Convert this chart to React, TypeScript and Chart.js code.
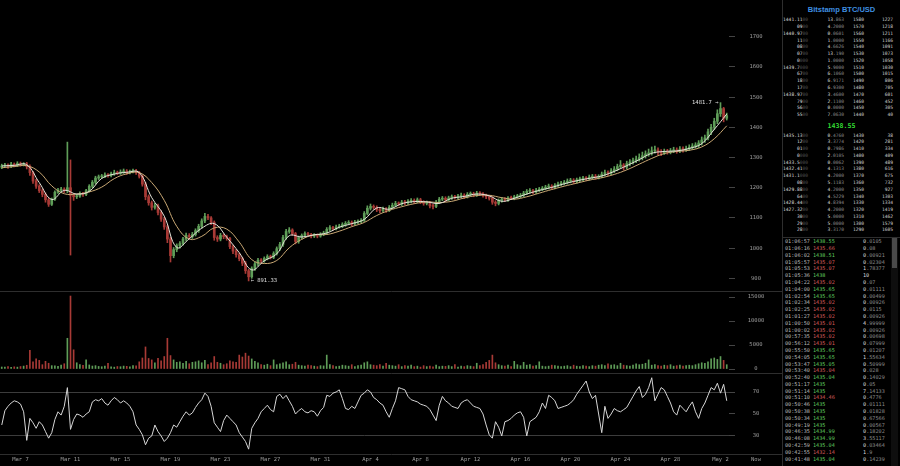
import React, { useEffect, useRef } from 'react';
import { Chart, registerables } from 'chart.js';

Chart.register(...registerables);

const MONO = '"DejaVu Sans Mono", monospace';

// time axis in days counted from Mar 0 (Apr 1 = 32, May 1 = 62)
const FIRST_DAY = 5.5;
const CANDLE_DAYS = 0.25;
const VIEW_START = 5.36;
const VIEW_END = 63.68;
const X_TICK_DAYS = [7, 11, 15, 19, 23, 27, 31, 35, 39, 43, 47, 51, 55, 59, 63, 65.84];
const X_TICK_LABELS = ['Mar 7', 'Mar 11', 'Mar 15', 'Mar 19', 'Mar 23', 'Mar 27', 'Mar 31', 'Apr 4', 'Apr 8', 'Apr 12', 'Apr 16', 'Apr 20', 'Apr 24', 'Apr 28', 'May 2', 'Now'];
const PRICE_TICKS = [900, 1000, 1100, 1200, 1300, 1400, 1500, 1600, 1700];
const VOLUME_TICKS = [0, 5000, 10000, 15000];
const RSI_TICKS = [30, 50, 70];

const FIRST_OPEN = 1268;
const closes = [
  1272, 1275, 1270, 1278, 1274, 1280, 1276, 1279, 1270, 1250,
  1222, 1205, 1190, 1178, 1160, 1145, 1162, 1185, 1192, 1195,
  1190, 1200, 1175, 1170, 1172, 1180, 1178, 1190, 1205, 1218,
  1232, 1236, 1238, 1242, 1240, 1246, 1250, 1248, 1252, 1255,
  1250, 1254, 1256, 1250, 1238, 1212, 1170, 1150, 1135, 1140,
  1118, 1096, 1070, 1030, 975, 995, 1008, 1015, 1030, 1042,
  1038, 1045, 1058, 1072, 1090, 1105, 1100, 1085, 1035, 1030,
  1042, 1038, 1032, 1005, 990, 978, 965, 950, 925, 905,
  932, 948, 960, 958, 966, 972, 970, 982, 998, 1012,
  1035, 1055, 1060, 1048, 1022, 1035, 1042, 1048, 1045, 1040,
  1043, 1040, 1046, 1050, 1062, 1068, 1064, 1070, 1072, 1078,
  1082, 1085, 1080, 1086, 1088, 1092, 1115, 1132, 1138, 1135,
  1128, 1124, 1130, 1125, 1135, 1142, 1148, 1146, 1152, 1150,
  1155, 1158, 1154, 1160, 1152, 1148, 1150, 1140, 1138, 1152,
  1162, 1165, 1160, 1166, 1170, 1168, 1172, 1175, 1170, 1178,
  1180, 1176, 1182, 1180, 1175, 1170, 1165, 1152, 1148, 1158,
  1162, 1160, 1166, 1165, 1170, 1172, 1175, 1182, 1188, 1190,
  1186, 1192, 1195, 1198, 1202, 1205, 1200, 1208, 1212, 1215,
  1218, 1222, 1225, 1220, 1226, 1228, 1232, 1230, 1235, 1238,
  1234, 1238, 1245, 1250, 1248, 1256, 1262, 1270, 1275, 1268,
  1280, 1285, 1290, 1295, 1300, 1306, 1312, 1315, 1322, 1325,
  1318, 1315, 1320, 1318, 1322, 1325, 1322, 1328, 1326, 1330,
  1334, 1338, 1340, 1348, 1358, 1365, 1385, 1400, 1420, 1445,
  1462, 1430, 1438.55,
];
const highs = [
  1278, 1281, 1279, 1284, 1282, 1286, 1285, 1283, 1284, 1276,
  1254, 1228, 1210, 1196, 1183, 1166, 1166, 1190, 1198, 1201,
  1200, 1351, 1292, 1181, 1178, 1186, 1185, 1195, 1210, 1224,
  1238, 1242, 1244, 1249, 1247, 1252, 1258, 1255, 1259, 1262,
  1260, 1258, 1262, 1261, 1254, 1242, 1218, 1176, 1156, 1148,
  1146, 1124, 1102, 1076, 1036, 1002, 1014, 1022, 1036, 1050,
  1048, 1052, 1064, 1079, 1097, 1115, 1112, 1104, 1090, 1041,
  1049, 1047, 1043, 1036, 1010, 996, 984, 970, 956, 930,
  938, 954, 966, 965, 971, 978, 977, 988, 1004, 1019,
  1042, 1062, 1068, 1064, 1052, 1040, 1047, 1054, 1052, 1049,
  1048, 1047, 1051, 1056, 1068, 1075, 1072, 1076, 1079, 1084,
  1088, 1091, 1090, 1092, 1094, 1098, 1121, 1140, 1146, 1143,
  1140, 1134, 1136, 1134, 1141, 1149, 1155, 1153, 1158, 1158,
  1161, 1164, 1163, 1166, 1165, 1157, 1156, 1155, 1146, 1158,
  1168, 1171, 1170, 1172, 1176, 1175, 1178, 1182, 1180, 1184,
  1186, 1185, 1188, 1187, 1184, 1179, 1174, 1170, 1157, 1163,
  1168, 1167, 1171, 1172, 1175, 1178, 1181, 1188, 1194, 1197,
  1195, 1198, 1201, 1204, 1208, 1212, 1210, 1214, 1219, 1221,
  1224, 1229, 1231, 1230, 1232, 1235, 1238, 1237, 1242, 1244,
  1244, 1243, 1252, 1258, 1256, 1263, 1270, 1278, 1290, 1280,
  1288, 1293, 1298, 1305, 1312, 1318, 1322, 1328, 1335, 1338,
  1332, 1326, 1328, 1327, 1330, 1334, 1332, 1336, 1335, 1338,
  1342, 1346, 1349, 1356, 1368, 1374, 1394, 1410, 1430, 1458,
  1481.7, 1466, 1447,
];
const lows = [
  1263, 1268, 1264, 1266, 1269, 1270, 1271, 1272, 1262, 1241,
  1214, 1198, 1184, 1170, 1152, 1138, 1141, 1158, 1181, 1187,
  1184, 1183, 977, 1158, 1164, 1168, 1171, 1174, 1186, 1200,
  1212, 1227, 1231, 1233, 1235, 1236, 1241, 1243, 1244, 1247,
  1244, 1246, 1249, 1244, 1232, 1205, 1160, 1142, 1126, 1129,
  1110, 1088, 1062, 1018, 954, 968, 988, 1000, 1010, 1024,
  1030, 1032, 1040, 1052, 1066, 1084, 1094, 1078, 1026, 1022,
  1024, 1031, 1026, 998, 982, 970, 958, 942, 916, 891.33,
  900, 926, 942, 951, 953, 961, 964, 965, 977, 992,
  1006, 1029, 1049, 1042, 1014, 1016, 1030, 1037, 1040, 1034,
  1035, 1034, 1036, 1041, 1045, 1057, 1059, 1060, 1066, 1068,
  1072, 1077, 1074, 1076, 1081, 1083, 1088, 1110, 1126, 1129,
  1121, 1117, 1119, 1118, 1121, 1130, 1137, 1140, 1141, 1144,
  1145, 1150, 1148, 1150, 1147, 1142, 1143, 1133, 1130, 1134,
  1147, 1157, 1154, 1156, 1161, 1162, 1163, 1167, 1164, 1166,
  1172, 1170, 1171, 1174, 1169, 1164, 1159, 1145, 1140, 1143,
  1152, 1155, 1155, 1160, 1160, 1165, 1167, 1170, 1177, 1182,
  1180, 1181, 1187, 1190, 1193, 1196, 1195, 1196, 1203, 1207,
  1209, 1212, 1216, 1214, 1215, 1220, 1223, 1224, 1225, 1229,
  1228, 1229, 1233, 1239, 1241, 1243, 1250, 1256, 1264, 1258,
  1262, 1272, 1278, 1283, 1288, 1292, 1298, 1304, 1308, 1314,
  1308, 1306, 1310, 1311, 1312, 1316, 1314, 1316, 1318, 1320,
  1323, 1327, 1331, 1333, 1341, 1350, 1358, 1376, 1392, 1412,
  1436, 1418, 1424,
];
const volumes = [
  420, 380, 510, 350, 460, 390, 520, 610, 780, 3900,
  1500, 2100, 1800, 900, 1600, 1200, 700, 650, 540, 820,
  1100, 6400, 15200, 4000, 1300, 900, 760, 1900, 850, 620,
  700, 540, 480, 610, 1200, 450, 390, 520, 480, 610,
  560, 470, 720, 650, 1500, 2300, 4600, 2200, 1900, 1300,
  2200, 1700, 2600, 6400, 2800, 1900, 1400, 1500, 1200, 1600,
  1100, 1400, 1500, 1700, 1300, 1800, 900, 1300, 2600, 1400,
  1200, 900, 1100, 1700, 1500, 1400, 2900, 2500, 3300, 2700,
  2100, 1600, 1300, 900, 800, 1000, 700, 1900, 900, 1100,
  1300, 1500, 900, 1000, 1400, 800, 700, 600, 800, 700,
  600, 500, 700, 650, 2900, 900, 700, 500, 600, 800,
  700, 600, 900, 500, 700, 800, 1300, 1500, 900, 800,
  700, 900, 600, 1200, 800, 700, 600, 900, 500, 700,
  600, 800, 500, 600, 400, 700, 500, 600, 450, 800,
  500, 600, 550, 700, 500, 900, 400, 600, 500, 700,
  600, 500, 1200, 700, 900, 1400, 1800, 2900, 1300, 900,
  700, 600, 800, 500, 1600, 900, 700, 1400, 800, 900,
  600, 700, 1500, 600, 500, 600, 800, 700, 600, 500,
  600, 700, 500, 800, 600, 500, 700, 600, 500, 700,
  600, 800, 900, 700, 1100, 800, 900, 700, 1200, 800,
  700, 600, 800, 1100, 900, 1000, 1200, 1900, 800, 900,
  700, 600, 800, 700, 900, 600, 700, 800, 600, 700,
  800, 700, 900, 1100, 1300, 1200, 1500, 2100, 2300, 2000,
  2600, 1800, 900,
];
const rsi = [
  40, 53, 57, 60, 62, 61, 59, 52, 26, 46,
  42, 37, 43, 40, 34, 28, 33, 45, 52, 49,
  57, 74, 36, 45, 50, 49, 47, 50, 52, 61,
  63, 62, 64, 60, 58, 62, 65, 63, 60, 62,
  60, 57, 52, 40, 36, 31, 22, 28, 30, 40,
  34, 30, 25, 28, 33, 40, 38, 43, 48, 52,
  49, 51, 56, 60, 63, 69, 66, 57, 42, 38,
  34, 44, 49, 46, 43, 40, 33, 29, 25, 18,
  37, 42, 46, 52, 55, 58, 54, 52, 66, 68,
  64, 67, 62, 57, 50, 53, 55, 52, 51, 53,
  52, 48, 53, 56, 67, 66, 69, 70, 72, 64,
  55, 54, 57, 55, 61, 67, 69, 72, 70, 65,
  63, 60, 58, 52, 47, 55, 62, 74, 73, 72,
  66, 63, 62, 61, 59, 58, 57, 54, 49, 44,
  58, 66, 62, 60, 57, 56, 55, 60, 62, 63,
  60, 57, 56, 55, 50, 40, 31, 28, 43, 38,
  30, 43, 44, 46, 49, 51, 52, 47, 30, 43,
  45, 47, 52, 60, 55, 67, 65, 62, 55, 56,
  57, 58, 60, 63, 68, 72, 76, 80, 70, 64,
  67, 50, 33, 57, 46, 50, 55, 53, 52, 54,
  56, 61, 66, 71, 75, 65, 68, 74, 83, 62,
  68, 74, 72, 66, 60, 52, 49, 58, 55, 52,
  57, 61, 52, 46, 55, 60, 67, 74, 72, 78,
  69, 77, 62,
];
// moving averages sampled every 4th candle
const MA_EVERY = 4;
const maFast = [
  1272, 1274, 1276, 1217, 1161, 1191, 1179, 1188, 1231, 1245,
  1251, 1250, 1167, 1106, 1002, 1031, 1066, 1081, 1036, 985,
  928, 958, 981, 1041, 1037, 1044, 1050, 1069, 1081, 1095,
  1133, 1129, 1147, 1154, 1153, 1148, 1165, 1171, 1179, 1173,
  1155, 1165, 1179, 1191, 1201, 1213, 1223, 1231, 1239, 1254,
  1273, 1293, 1314, 1320, 1322, 1330, 1346, 1393, 1444,
];
const maSlow = [
  1266, 1270, 1273, 1252, 1206, 1180, 1179, 1186, 1202, 1230,
  1246, 1250, 1217, 1158, 1072, 1030, 1039, 1067, 1063, 1020,
  962, 949, 959, 1001, 1029, 1044, 1045, 1056, 1071, 1085,
  1108, 1125, 1137, 1147, 1153, 1151, 1155, 1166, 1174, 1175,
  1167, 1162, 1170, 1182, 1194, 1205, 1215, 1225, 1233, 1244,
  1259, 1278, 1297, 1313, 1320, 1324, 1335, 1362, 1405,
];

// ---- order book / trades ----
const BOOK_TITLE = 'Bitstamp BTC/USD';
const LAST_PRICE = '1438.55';
const askPx = ['1441.11', '09', '1440.97', '11', '08', '07', '0', '1439.7', '67', '18', '17', '1438.97', '79', '56', '55'];
const askAmt = ['13.863', '4.2000', '0.0601', '1.0000', '4.6626', '13.190', '1.0000', '5.9000', '6.1060', '6.9171', '6.9300', '3.4600', '2.1100', '0.0000', '7.0630'];
const askLvl = ['1580', '1570', '1560', '1550', '1540', '1530', '1520', '1510', '1500', '1490', '1480', '1470', '1460', '1450', '1440'];
const askCum = ['1227', '1218', '1211', '1166', '1091', '1073', '1058', '1030', '1015', '806', '705', '601', '452', '305', '40'];
const bidPx = ['1435.13', '12', '01', '0', '1433.5', '1432.41', '1431.1', '08', '1429.88', '64', '1428.44', '1427.32', '30', '29', '28'];
const bidAmt = ['0.4760', '3.3774', '0.7986', '2.0105', '0.0062', '4.1313', '4.2000', '5.1183', '4.2000', '4.5229', '4.8394', '4.2000', '5.0000', '5.0000', '3.3170'];
const bidLvl = ['1430', '1420', '1410', '1400', '1390', '1380', '1370', '1360', '1350', '1340', '1330', '1320', '1310', '1300', '1290'];
const bidCum = ['38', '281', '334', '409', '489', '616', '675', '732', '927', '1303', '1334', '1419', '1462', '1579', '1605'];
const tradeTime = ['01:06:57', '01:06:16', '01:06:02', '01:05:57', '01:05:53', '01:05:36', '01:04:22', '01:04:00', '01:02:54', '01:02:34', '01:02:25', '01:01:27', '01:00:50', '01:00:02', '00:57:35', '00:56:12', '00:55:50', '00:54:05', '00:53:47', '00:53:40', '00:52:40', '00:51:17', '00:51:14', '00:51:10', '00:50:46', '00:50:38', '00:50:34', '00:49:19', '00:46:35', '00:46:08', '00:42:59', '00:42:55', '00:41:48'];
const tradePx = ['1438.55', '1435.66', '1438.51', '1435.07', '1435.07', '1438', '1435.02', '1435.65', '1435.65', '1435.02', '1435.02', '1435.02', '1435.01', '1435.02', '1435.02', '1435.01', '1435.65', '1435.65', '1435.05', '1435.04', '1435.04', '1435', '1435', '1434.46', '1435', '1435', '1435', '1435', '1434.99', '1434.99', '1435.04', '1432.14', '1435.04'];
const tradeBuy = [1, 0, 1, 0, 0, 1, 0, 1, 1, 0, 0, 0, 0, 0, 0, 0, 1, 1, 1, 0, 1, 1, 1, 0, 1, 1, 1, 1, 1, 1, 1, 0, 1];
const tradeAmt = ['0.0105', '0.08', '0.00921', '0.02304', '1.78377', '10', '0.07', '0.01111', '0.00499', '0.00926', '0.0115', '0.00926', '4.99999', '0.00926', '0.00698', '0.07999', '0.01207', '1.55634', '0.50999', '0.028', '0.14029', '0.05', '7.14133', '0.4776', '0.01111', '0.01828', '0.67566', '0.00567', '0.18202', '3.55117', '0.03464', '1.9', '0.14239'];

const UP = '#5f9d58';
const DOWN = '#a83a36';
const TICK_FONT = { family: MONO, size: 5.5 };
const TICK_COLOR = '#9a9a9a';

const separatorPlugin = {
  id: 'panelSeparators',
  afterDraw(chart: any) {
    const { ctx } = chart;
    const yV = chart.scales.yV;
    const yR = chart.scales.yR;
    ctx.save();
    ctx.strokeStyle = '#2e2e2e';
    ctx.lineWidth = 1;
    [yV.top, yR.top, yR.bottom].forEach((y: number) => {
      const yy = Math.round(y) + 0.5;
      ctx.beginPath();
      ctx.moveTo(0, yy);
      ctx.lineTo(chart.width, yy);
      ctx.stroke();
    });
    ctx.restore();
  },
};

const extremesPlugin = {
  id: 'extremes',
  afterDatasetsDraw(chart: any) {
    const { ctx } = chart;
    const xS = chart.scales.x;
    const yS = chart.scales.yP;
    let iH = 0;
    let iL = 0;
    highs.forEach((h, i) => { if (h > highs[iH]) iH = i; });
    lows.forEach((l, i) => { if (l < lows[iL]) iL = i; });
    const xAt = (i: number) => xS.getPixelForValue(FIRST_DAY + CANDLE_DAYS * i);
    ctx.save();
    ctx.font = `5.5px ${MONO}`;
    ctx.fillStyle = '#e0e0e0';
    ctx.textBaseline = 'middle';
    ctx.textAlign = 'right';
    ctx.fillText(`${highs[iH]} \u2192`, xAt(iH) - 2, yS.getPixelForValue(highs[iH]));
    ctx.textAlign = 'left';
    ctx.fillText(`\u2190 ${lows[iL]}`, xAt(iL) + 2, yS.getPixelForValue(lows[iL]));
    ctx.restore();
  },
};

function yAxis(stackWeight: number, min: number, max: number, ticks: number[], padding: number, extra: any = {}) {
  return {
    type: 'linear',
    position: 'right',
    stack: 'panes',
    stackWeight,
    min,
    max,
    beginAtZero: false,
    afterBuildTicks: (s: any) => { s.ticks = ticks.map((v) => ({ value: v })); },
    afterFit: (s: any) => { s.width = 54; s.paddingTop = 0; s.paddingBottom = 0; s.paddingLeft = 0; s.paddingRight = 0; },
    border: { display: false },
    grid: { drawOnChartArea: false, drawTicks: true, tickLength: 6, tickColor: '#444', color: '#444', ...(extra.grid || {}) },
    ticks: { crossAlign: 'center', padding, color: TICK_COLOR, font: TICK_FONT, callback: (v: any) => String(v) },
  };
}

const ROW = 6.77;
const GRAY_ZERO = '#4e4e4e';
const WHITE = '#dcdcdc';
const DIM = '#8a8a8a';

function padZeros(s: string) {
  const dec = s.includes('.') ? s.split('.')[1].length : s.length;
  return '0'.repeat(Math.max(0, 4 - dec));
}
function splitAmount(s: string): [string, string] {
  const k = s.indexOf('.');
  return k < 0 ? [s, ''] : [s.slice(0, k), s.slice(k)];
}

function BookRow({ y, px, amt, lvl, cum }: any) {
  const [ai, ad] = splitAmount(amt);
  return (
    <div style={{ position: 'absolute', left: 0, top: y - ROW / 2, width: 117, height: ROW, lineHeight: `${ROW}px` }}>
      <span style={{ position: 'absolute', left: 0, width: 25, textAlign: 'right', color: WHITE }}>
        {px}<span style={{ color: GRAY_ZERO }}>{padZeros(px)}</span>
      </span>
      <span style={{ position: 'absolute', left: 36, width: 25, textAlign: 'right', color: WHITE }}>
        {ai}<span style={{ color: DIM }}>{ad}</span>
      </span>
      <span style={{ position: 'absolute', left: 70, color: '#cfcfcf' }}>{lvl}</span>
      <span style={{ position: 'absolute', left: 85, width: 25, textAlign: 'right', color: '#cfcfcf' }}>{cum}</span>
    </div>
  );
}

function TradeRow({ y, t, px, buy, amt }: any) {
  const [ai, ad] = splitAmount(amt);
  return (
    <div style={{ position: 'absolute', left: 0, top: y - ROW / 2, width: 117, height: ROW, lineHeight: `${ROW}px` }}>
      <span style={{ position: 'absolute', left: 2, color: '#b8b8b8' }}>{t}</span>
      <span style={{ position: 'absolute', left: 30, color: buy ? '#5fc85f' : '#d25a5a' }}>{px}</span>
      <span style={{ position: 'absolute', left: 80, color: WHITE }}>
        {ai}<span style={{ color: DIM }}>{ad}</span>
      </span>
    </div>
  );
}

function OrderPanel() {
  return (
    <div style={{ position: 'absolute', left: 782, top: 0, width: 117, height: 466, borderLeft: '1px solid #2e2e2e', background: '#000', overflow: 'hidden', fontFamily: MONO, fontSize: '4.6px', whiteSpace: 'nowrap' }}>
      <div style={{ position: 'absolute', left: 0, top: 5, width: 117, textAlign: 'center', color: '#3f8fe0', fontFamily: '"Liberation Sans", Arial, sans-serif', fontWeight: 'bold', fontSize: '7.5px', lineHeight: '10px' }}>{BOOK_TITLE}</div>
      {askPx.map((p, k) => (
        <BookRow key={'a' + k} y={20.7 + ROW * k} px={p} amt={askAmt[k]} lvl={askLvl[k]} cum={askCum[k]} />
      ))}
      <div style={{ position: 'absolute', left: 0, top: 121, width: 117, textAlign: 'center', color: '#33dd33', fontWeight: 'bold', fontSize: '6.6px', lineHeight: '10px' }}>{LAST_PRICE}</div>
      {bidPx.map((p, k) => (
        <BookRow key={'b' + k} y={136 + ROW * k} px={p} amt={bidAmt[k]} lvl={bidLvl[k]} cum={bidCum[k]} />
      ))}
      <div style={{ position: 'absolute', left: 0, top: 237, width: 117, height: 1, background: '#2e2e2e' }} />
      <div style={{ position: 'absolute', left: 0, top: 238, width: 117, height: 228, fontSize: '5.2px' }}>
        {tradeTime.map((t, k) => (
          <TradeRow key={'t' + k} y={3.7 + 6.79 * k} t={t} px={tradePx[k]} buy={tradeBuy[k]} amt={tradeAmt[k]} />
        ))}
      </div>
      <div style={{ position: 'absolute', left: 108, top: 238, width: 7, height: 228, background: '#0e0e0e' }} />
      <div style={{ position: 'absolute', left: 109, top: 238, width: 5, height: 30, background: '#4a4a4a' }} />
    </div>
  );
}

export default function App() {
  const ref = useRef<HTMLCanvasElement>(null);

  useEffect(() => {
    document.body.style.margin = '0';
    document.body.style.background = '#000';
    const opens = closes.map((c, i) => (i === 0 ? FIRST_OPEN : closes[i - 1]));
    const xs = closes.map((_, i) => FIRST_DAY + CANDLE_DAYS * i);
    const colors = closes.map((c, i) => (c >= opens[i] ? UP : DOWN));
    const maX = maFast.map((_, k) => xs[k * MA_EVERY]);

    const chart = new Chart(ref.current as HTMLCanvasElement, {
      type: 'bar',
      data: {
        datasets: [
          { type: 'line', label: 'MA fast', yAxisID: 'yP', data: maFast.map((v, k) => ({ x: maX[k], y: v })), borderColor: '#e6e4da', borderWidth: 1, pointRadius: 0, tension: 0.4, order: 0 },
          { type: 'line', label: 'MA slow', yAxisID: 'yP', data: maSlow.map((v, k) => ({ x: maX[k], y: v })), borderColor: '#c9a874', borderWidth: 1, pointRadius: 0, tension: 0.4, order: 0 },
          { type: 'bar', label: 'body', yAxisID: 'yP', data: xs.map((x, i) => ({ x, y: [opens[i], closes[i]] })), backgroundColor: colors, barThickness: 2, minBarLength: 1, grouped: false, order: 1 },
          { type: 'bar', label: 'wick', yAxisID: 'yP', data: xs.map((x, i) => ({ x, y: [lows[i], highs[i]] })), backgroundColor: colors, barThickness: 1, grouped: false, order: 2 },
          { type: 'bar', label: 'volume', yAxisID: 'yV', data: xs.map((x, i) => ({ x, y: volumes[i] })), backgroundColor: colors, barThickness: 1, grouped: false, order: 1 },
          { type: 'line', label: 'RSI', yAxisID: 'yR', data: xs.map((x, i) => ({ x, y: rsi[i] })), borderColor: '#d6d6d6', borderWidth: 1, pointRadius: 0, tension: 0, order: 0 },
        ] as any,
      },
      options: {
        responsive: false,
        devicePixelRatio: 1,
        animation: false,
        events: [],
        layout: { padding: 0 },
        plugins: { legend: { display: false }, tooltip: { enabled: false } },
        scales: {
          x: {
            type: 'linear',
            min: VIEW_START,
            max: VIEW_END,
            offset: false,
            grid: { display: false, drawTicks: false },
            border: { display: false },
            afterBuildTicks: (s: any) => { s.ticks = X_TICK_DAYS.map((v) => ({ value: v })); },
            afterFit: (s: any) => { s.height = 12; s.paddingLeft = 0; s.paddingRight = 0; s.paddingTop = 0; s.paddingBottom = 0; },
            ticks: { autoSkip: false, maxRotation: 0, minRotation: 0, padding: 2, color: TICK_COLOR, font: TICK_FONT, callback: (_v: any, i: number) => X_TICK_LABELS[i] },
          },
          yP: yAxis(291, 858, 1821.5, PRICE_TICKS, 14.4),
          yV: yAxis(82, -830, 16250, VOLUME_TICKS, 12.7),
          yR: yAxis(81, 13.6, 87.3, RSI_TICKS, 17.7, {
            grid: { drawOnChartArea: true, color: (c: any) => (c.tick && c.tick.value === 50 ? 'rgba(0,0,0,0)' : '#3c3c3c') },
          }),
        } as any,
      },
      plugins: [separatorPlugin, extremesPlugin],
    });
    return () => chart.destroy();
  }, []);

  return (
    <div style={{ position: 'relative', width: 900, height: 466, background: '#000', overflow: 'hidden' }}>
      <canvas ref={ref} width={783} height={466} style={{ position: 'absolute', left: 0, top: 0, width: 783, height: 466 }} />
      <OrderPanel />
    </div>
  );
}
